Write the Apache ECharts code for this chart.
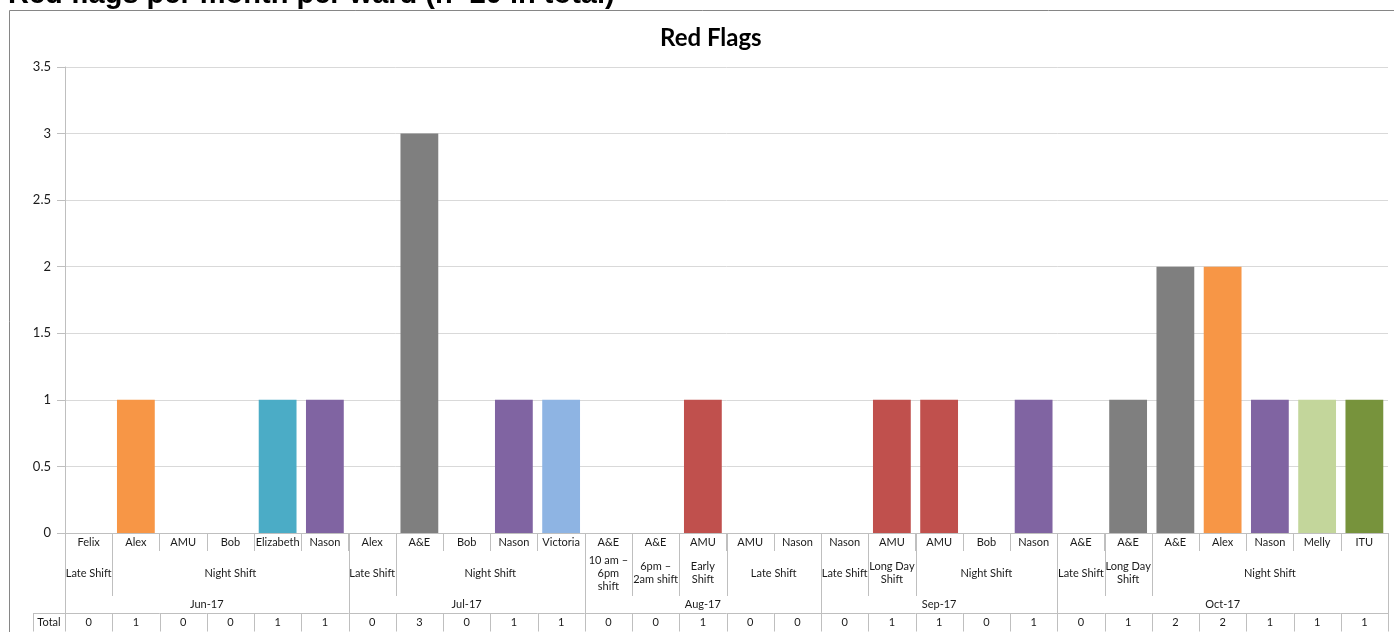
<!DOCTYPE html>
<html>
<head>
<meta charset="utf-8">
<script src="https://cdn.jsdelivr.net/npm/echarts@6/dist/echarts.min.js"></script>
<style>
  html, body { margin: 0; padding: 0; background: #ffffff; }
  #chart { width: 1394px; height: 632px; }
</style>
</head>
<body>
<div id="chart"></div>
<script>
// ---- data ----
const wards = ['Felix', 'Alex', 'AMU', 'Bob', 'Elizabeth', 'Nason',
               'Alex', 'A&E', 'Bob', 'Nason', 'Victoria',
               'A&E', 'A&E', 'AMU', 'AMU', 'Nason',
               'Nason', 'AMU', 'AMU', 'Bob', 'Nason',
               'A&E', 'A&E', 'A&E', 'Alex', 'Nason', 'Melly', 'ITU'];
const redFlags = [0, 1, 0, 0, 1, 1,
                  0, 3, 0, 1, 1,
                  0, 0, 1, 0, 0,
                  0, 1, 1, 0, 1,
                  0, 1, 2, 2, 1, 1, 1];
const shiftNames = ['Late Shift', 'Night Shift',
                    'Late Shift', 'Night Shift',
                    '10 am –\n6pm\nshift', '6pm –\n2am shift', 'Early\nShift', 'Late Shift',
                    'Late Shift', 'Long Day\nShift', 'Night Shift',
                    'Late Shift', 'Long Day\nShift', 'Night Shift'];
const shiftSizes = [1, 5, 1, 4, 1, 1, 1, 2, 1, 1, 3, 1, 1, 5];
const months = ['Jun-17', 'Jul-17', 'Aug-17', 'Sep-17', 'Oct-17'];
const monthSizes = [6, 5, 5, 5, 7];
const yTicks = { min: 0, max: 3.5, interval: 0.5 };
const rowLabel = 'Total';
const chartTitle = 'Red Flags';
const pageHeading = 'Red flags per month per ward (n=20 in total)';

// ---- styling ----
const wardColors = {
  'Alex': '#F79646', 'Elizabeth': '#4BACC6', 'Nason': '#8064A2', 'A&E': '#7F7F7F',
  'Victoria': '#8EB4E3', 'AMU': '#C0504D', 'Melly': '#C3D69B', 'ITU': '#77933C',
  'Felix': '#4F81BD', 'Bob': '#9BBB59'
};
const FONT = 'Lato, "Noto Sans", sans-serif';
const TEXT = '#1a1a1a';
const RULE = '#BFBFBF';

// group start lookups built from the size arrays
function starts(sizes) {
  const m = new Map(); let k = 0;
  sizes.forEach((s, g) => { m.set(k, g); k += s; });
  return m;
}
const shiftStart = starts(shiftSizes);
const monthStart = starts(monthSizes);

const chart = echarts.init(document.getElementById('chart'), null, { renderer: 'canvas' });

function crisp(v) { return Math.round(v) + 0.5; }

// multi-level category table under the x axis
function renderAxisTable(params, api) {
  const i = params.dataIndex;
  const p = api.coord([i, 0]);
  const band = api.size([1, 0])[0];
  const xl = p[0] - band / 2;
  const xr = p[0] + band / 2;
  const y0 = p[1];
  const out = [];
  const line = (xa, ya, xb, yb) => ({
    type: 'line', silent: true,
    shape: { x1: xa, y1: ya, x2: xb, y2: yb },
    style: { stroke: RULE, lineWidth: 1 }
  });
  const text = (t, x, y) => ({
    type: 'text', silent: true,
    style: { text: t, x: x, y: y, align: 'center', verticalAlign: 'middle',
             font: '11px ' + FONT, fill: TEXT, lineHeight: 13 }
  });

  const tTop = y0 + 80, tBot = y0 + 98.5;
  // separators on the left edge of the category
  if (monthStart.has(i)) {
    out.push(line(crisp(xl), y0, crisp(xl), tBot));
  } else if (shiftStart.has(i)) {
    out.push(line(crisp(xl), y0, crisp(xl), y0 + 63));
    out.push(line(crisp(xl), tTop, crisp(xl), tBot));
  } else {
    out.push(line(crisp(xl), tTop, crisp(xl), tBot));
  }
  if (i === wards.length - 1) {
    out.push(line(crisp(xr), y0, crisp(xr), tBot));
  }
  // table row borders and value
  out.push(line(xl, crisp(tTop), xr, crisp(tTop)));
  out.push(line(xl, crisp(tBot), xr, crisp(tBot)));
  out.push(text(String(redFlags[i]), p[0], y0 + 89));

  // shift group label
  if (shiftStart.has(i)) {
    const g = shiftStart.get(i);
    out.push(text(shiftNames[g], xl + shiftSizes[g] * band / 2, y0 + 40));
  }
  // month label
  if (monthStart.has(i)) {
    const g = monthStart.get(i);
    out.push(text(months[g], xl + monthSizes[g] * band / 2, y0 + 71));
  }
  // row header cell
  if (i === 0) {
    const hx = crisp(xl - 32);
    out.push(line(hx, tTop, hx, tBot));
    out.push(line(hx, crisp(tTop), xl, crisp(tTop)));
    out.push(line(hx, crisp(tBot), xl, crisp(tBot)));
    out.push(text(rowLabel, xl - 16, y0 + 89));
  }
  return { type: 'group', children: out };
}

const option = {
  animation: false,
  backgroundColor: '#ffffff',
  textStyle: { fontFamily: FONT },
  title: {
    text: chartTitle,
    left: 655,
    top: 21,
    textStyle: { fontFamily: FONT, fontSize: 24, fontWeight: 'bold', color: '#000000' }
  },
  graphic: [
    {
      type: 'rect', silent: true, z: -10,
      shape: { x: 9.5, y: 10.5, width: 1400, height: 640 },
      style: { fill: 'none', stroke: '#868686', lineWidth: 1 }
    },
    {
      type: 'text', silent: true,
      style: {
        text: pageHeading, x: 8, y: -5, verticalAlign: 'middle',
        font: 'bold 29px "Liberation Sans", Arial, sans-serif', fill: '#000000'
      }
    }
  ],
  grid: { left: 65, right: 6, top: 67, bottom: 99 },
  xAxis: {
    type: 'category',
    data: wards,
    axisLine: { show: true, lineStyle: { color: RULE, width: 1 } },
    axisTick: { show: true, interval: 0, length: 18, lineStyle: { color: RULE } },
    axisLabel: { interval: 0, margin: 4, fontSize: 11, color: TEXT, fontFamily: FONT },
    splitLine: { show: false }
  },
  yAxis: {
    type: 'value',
    min: yTicks.min, max: yTicks.max, interval: yTicks.interval,
    axisLine: { show: true, lineStyle: { color: RULE, width: 1 } },
    axisTick: { show: true, length: 8, lineStyle: { color: RULE } },
    axisLabel: { margin: 14, fontSize: 13, color: TEXT, fontFamily: FONT },
    splitLine: { show: true, lineStyle: { color: '#D9D9D9', width: 1 } }
  },
  series: [
    {
      name: chartTitle,
      type: 'bar',
      barCategoryGap: '20%',
      data: redFlags.map((v, i) => ({ value: v, itemStyle: { color: wardColors[wards[i]] } })),
      silent: true
    },
    {
      type: 'custom',
      coordinateSystem: 'cartesian2d',
      clip: false,
      silent: true,
      z: 5,
      data: redFlags.map((v, i) => [i, v]),
      encode: { x: 0, y: 1 },
      renderItem: renderAxisTable
    }
  ]
};
chart.setOption(option);
</script>
</body>
</html>
